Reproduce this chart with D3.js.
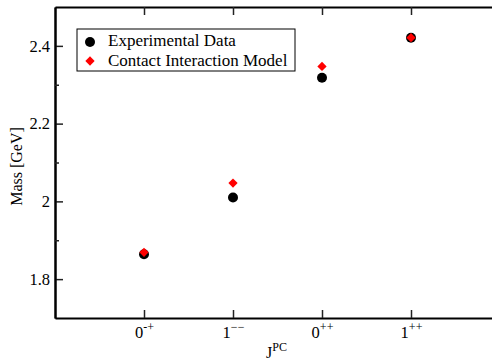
<!DOCTYPE html>
<html>
<head>
<meta charset="utf-8">
<script src="https://cdnjs.cloudflare.com/ajax/libs/d3/7.8.5/d3.min.js"></script>
<style>
  body { margin: 0; background: #fff; }
  svg { display: block; }
  text { font-family: "Liberation Serif", "Times New Roman", serif; }
</style>
</head>
<body>
<div id="container"></div>
<script>
// Chart data
var states = [1, 2, 3, 4];
var stateJ = ["0", "1", "0", "1"];
var statePC = ["-+", "\u2212\u2212", "++", "++"];
var experimental = [1.864, 2.010, 2.318, 2.421];
var contactModel = [1.869, 2.047, 2.347, 2.421];
var yMajor = [1.8, 2.0, 2.2, 2.4];
var yMinor = [1.9, 2.1, 2.3];
var yLabels = ["1.8", "2", "2.2", "2.4"];

var W = 492, H = 362;
var margin = {top: 7, right: -8, bottom: 44, left: 55},
    width = W - margin.left - margin.right,
    height = H - margin.top - margin.bottom;

var svg = d3.select("#container")
            .append("svg")
            .attr("width", W)
            .attr("height", H);

var g = svg.append("g")
           .attr("transform", "translate(" + margin.left + "," + margin.top + ")");

var x = d3.scaleLinear().domain([0, 5]).range([0, width]);
var y = d3.scaleLinear().domain([1.7, 2.5]).range([height, 0]);

function styleAxis(sel) {
  sel.select(".domain").attr("stroke", "#000").attr("stroke-width", 2);
  sel.selectAll(".tick line").attr("stroke", "#222").attr("stroke-width", 1.5);
  sel.selectAll("text")
     .attr("fill", "#000")
     .style("font-size", "16.5px")
     .style("font-family", "'Liberation Serif', serif");
}

// Bottom axis with superscripted labels
var xb = g.append("g")
  .attr("transform", "translate(0," + height + ")")
  .call(d3.axisBottom(x).tickValues(states).tickSize(-8).tickSizeOuter(0).tickPadding(8).tickFormat(""))
  .call(styleAxis);
xb.selectAll(".tick text").each(function(d, i) {
  var t = d3.select(this).text(null);
  t.append("tspan").text(stateJ[i]);
  t.append("tspan").attr("dy", "-0.55em").style("font-size", "12px").text(statePC[i]);
});

// Top axis
g.append("g")
  .call(d3.axisTop(x).tickValues(states).tickSize(-8).tickSizeOuter(0).tickFormat(""))
  .call(styleAxis);

// Left axis, major and minor ticks
g.append("g")
  .call(d3.axisLeft(y).tickValues(yMajor).tickSize(-8).tickSizeOuter(0).tickPadding(5)
        .tickFormat(function(d, i) { return yLabels[i]; }))
  .call(styleAxis);
g.append("g")
  .call(d3.axisLeft(y).tickValues(yMinor).tickSize(-4).tickSizeOuter(0).tickFormat(""))
  .call(styleAxis);

// Right axis
g.append("g")
  .attr("transform", "translate(" + width + ",0)")
  .call(d3.axisRight(y).tickValues(yMajor).tickSize(-8).tickSizeOuter(0).tickFormat(""))
  .call(styleAxis);
g.append("g")
  .attr("transform", "translate(" + width + ",0)")
  .call(d3.axisRight(y).tickValues(yMinor).tickSize(-4).tickSizeOuter(0).tickFormat(""))
  .call(styleAxis);

// Data points
g.selectAll(".exp")
  .data(experimental)
  .enter().append("circle")
  .attr("class", "exp")
  .attr("cx", function(d, i) { return x(states[i]); })
  .attr("cy", function(d) { return y(d); })
  .attr("r", 5)
  .attr("fill", "#000");

var diamond = d3.symbol().type(d3.symbolDiamond2).size(55);
g.selectAll(".model")
  .data(contactModel)
  .enter().append("path")
  .attr("class", "model")
  .attr("d", diamond)
  .attr("transform", function(d, i) { return "translate(" + x(states[i]) + "," + y(d) + ")"; })
  .attr("fill", "#ff0000");

// Legend
var legend = svg.append("g").attr("transform", "translate(77,29)");
legend.append("rect")
  .attr("width", 218).attr("height", 42)
  .attr("fill", "#fff").attr("stroke", "#000").attr("stroke-width", 1);
legend.append("circle").attr("cx", 13).attr("cy", 13).attr("r", 5).attr("fill", "#000");
legend.append("path").attr("d", diamond)
  .attr("transform", "translate(13,32)").attr("fill", "#ff0000");
legend.append("text").attr("x", 31).attr("y", 17).style("font-size", "17px").text("Experimental Data");
legend.append("text").attr("x", 31).attr("y", 37).style("font-size", "17px").text("Contact Interaction Model");

// Axis titles
svg.append("text")
  .attr("transform", "translate(22," + (margin.top + height / 2 + 4) + ") rotate(-90)")
  .style("text-anchor", "middle")
  .style("font-size", "16px")
  .text("Mass [GeV]");

var jt = svg.append("text")
  .attr("x", 266).attr("y", 358)
  .style("font-size", "16px");
jt.append("tspan").text("J");
jt.append("tspan").attr("dy", "-0.6em").style("font-size", "12px").text("PC");
</script>
</body>
</html>
